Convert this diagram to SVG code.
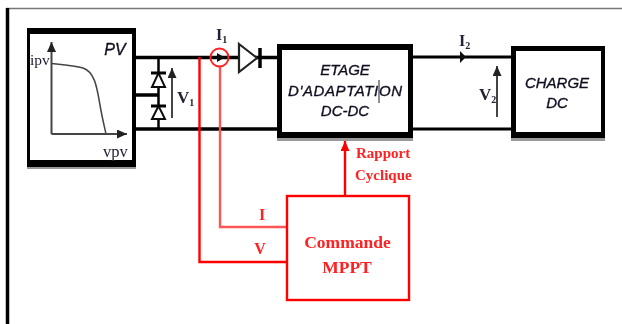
<svg xmlns="http://www.w3.org/2000/svg" width="622" height="324" viewBox="0 0 622 324">
<defs>
<filter id="b" x="-5%" y="-5%" width="110%" height="110%"><feGaussianBlur stdDeviation="0.55"/></filter>
<marker id="ak" markerWidth="12" markerHeight="12" refX="10" refY="4.500" orient="auto" markerUnits="userSpaceOnUse"><path d="M0 0L10 4.500L0 9z" fill="#222"/></marker>
<marker id="ar" markerWidth="12" markerHeight="12" refX="10" refY="4.500" orient="auto" markerUnits="userSpaceOnUse"><path d="M0 0L10 4.500L0 9z" fill="#f00"/></marker>
</defs>
<style>
.w{fill:none;stroke:#000;stroke-width:3.5}
.g{fill:none;stroke:#444;stroke-width:2}
.r{fill:none;stroke:#f00;stroke-width:2.400}
.d{fill:#fff;stroke:#111;stroke-width:2}
.bar{fill:none;stroke:#000;stroke-width:3}
.sh{fill:#999}
text{font-family:"Liberation Serif",serif;fill:#223}
.i{font-family:"Liberation Sans",sans-serif;font-style:italic;font-size:15px;fill:#112;stroke:#112;stroke-width:0.350;text-anchor:middle}
.t{font-weight:bold;fill:#f22;text-anchor:middle}
.rt{font-size:15px;font-weight:bold;fill:#f22}
</style>
<g filter="url(#b)">
<g id="frame">
<path d="M6 8.500H622" stroke="#777" stroke-width="1.500" fill="none"/>
<path d="M7.500 8V324" stroke="#000" stroke-width="3.500" fill="none"/>
</g>
<g id="connectors">
<path class="w" d="M135 57.500H280M135 129H280M135 95H158"/>
<path class="w" d="M412 57H512M412 129H512" style="stroke-width:3"/>
<path class="w" d="M158.500 58V129" style="stroke-width:2.500"/>
<path class="r" d="M199.500 57V262H287"/>
<path class="r" d="M220 66V227H287" style="stroke:#f55"/>
<path class="r" d="M345 196V141" marker-end="url(#ar)"/>
<path d="M217 53L225 57.500L217 62z" fill="#111"/>
<path d="M460 51L466 57L460 63z" fill="#111"/>
<path class="g" d="M172 118V68" marker-end="url(#ak)"/>
<path class="g" d="M497 117V66" marker-end="url(#ak)"/>
</g>
<g id="pv">
<rect x="27" y="164" width="109" height="5" class="sh"/>
<rect x="27" y="28" width="109" height="139" fill="#000"/>
<rect x="30" y="34" width="102" height="126" fill="#fff"/>
<path class="g" d="M51.500 134V42" marker-end="url(#ak)"/>
<path class="g" d="M51.500 134H127" marker-end="url(#ak)"/>
<path d="M52 63.500C65 65 75 66 83 68C95 72 97 88 100 105C102 117 104 125 106 134" fill="none" stroke="#444" stroke-width="1.500"/>
<text x="115" y="55" class="i" style="font-size:16px">PV</text>
<text x="30" y="65" font-size="15.500">ipv</text>
<text x="103" y="157" font-size="16.500">vpv</text>
</g>
<g id="pv-diodes">
<path class="d" d="M158.500 73L152 87H165z"/><path class="bar" d="M151 73H166"/>
<path class="d" d="M158.500 106L152 119H165z"/><path class="bar" d="M151 106H166"/>
</g>
<g id="v1"><text x="177" y="103" font-size="17" font-weight="bold">V<tspan font-size="10" dy="3">1</tspan></text></g>
<g id="i1">
<text x="216" y="40" font-size="16" font-weight="bold">I<tspan font-size="10" dy="3">1</tspan></text>
<circle cx="219.500" cy="57.500" r="9" fill="none" stroke="#f22" stroke-width="2"/>
</g>
<g id="diode">
<path d="M239 44L257 58L239 72z" fill="#fff" stroke="#222" stroke-width="2.200"/>
<path class="bar" d="M260 48V68" style="stroke-width:3.500"/>
</g>
<g id="etage">
<rect x="277" y="136" width="136" height="5" class="sh"/>
<rect x="277" y="44" width="136" height="94" fill="#000"/>
<rect x="282" y="50" width="126" height="82" fill="#fff"/>
<text x="345" y="75" class="i">ETAGE</text>
<text x="345" y="96" class="i" textLength="114">D'ADAPTATION</text>
<text x="345" y="116" class="i">DC-DC</text>
<path d="M379 80V103" stroke="#445" stroke-width="1.200" fill="none"/>
</g>
<g id="i2"><text x="459" y="46" font-size="16" font-weight="bold">I<tspan font-size="10" dy="3">2</tspan></text></g>
<g id="v2"><text x="479" y="100" font-size="17" font-weight="bold">V<tspan font-size="10" dy="3">2</tspan></text></g>
<g id="charge">
<rect x="511" y="136" width="94" height="5" class="sh"/>
<rect x="511" y="46" width="94" height="92" fill="#000"/>
<rect x="516" y="51" width="85" height="81" fill="#fff"/>
<text x="557" y="88" class="i">CHARGE</text>
<text x="557" y="108" class="i">DC</text>
</g>
<g id="mppt">
<rect x="287" y="196" width="122" height="104" fill="#fff" stroke="#f00" stroke-width="2.400"/>
<text x="347.500" y="248" class="t" font-size="17.500">Commande</text>
<text x="347" y="273" class="t" font-size="17.500">MPPT</text>
</g>
<g id="labels">
<text x="262" y="220" class="t" font-size="16">I</text>
<text x="260" y="254" class="t" font-size="16">V</text>
<text x="356" y="158" class="rt">Rapport</text>
<text x="355" y="180" class="rt">Cyclique</text>
</g>
</g>
</svg>
